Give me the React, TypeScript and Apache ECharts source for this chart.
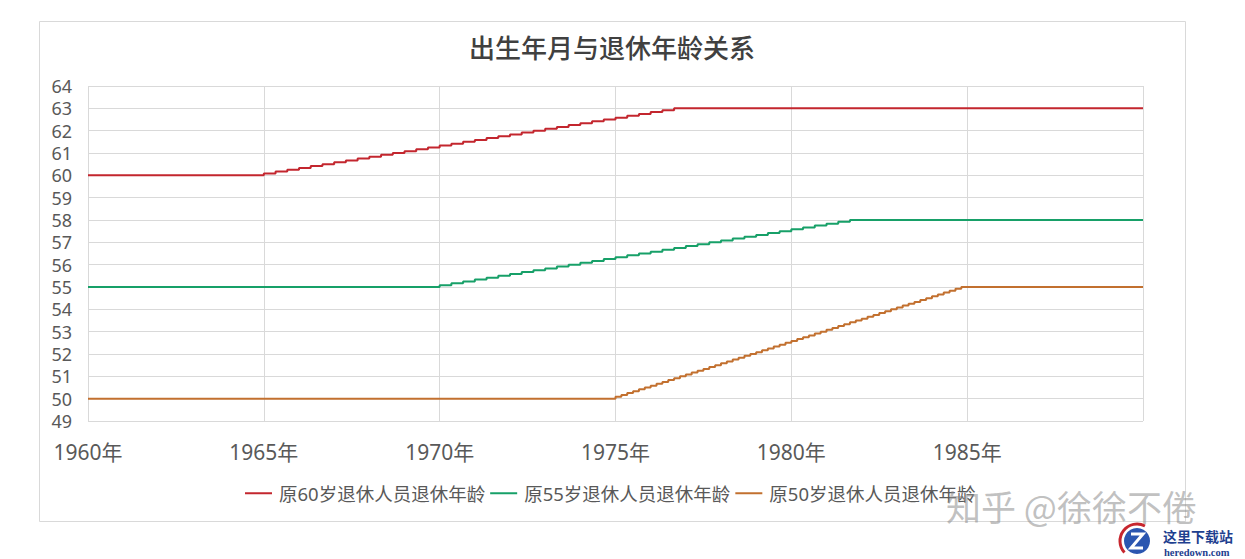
import React, { useEffect, useRef } from "react";
import * as echarts from "echarts";

const TITLE = "出生年月与退休年龄关系";
const SERIES_NAMES = ["原60岁退休人员退休年龄", "原55岁退休人员退休年龄", "原50岁退休人员退休年龄"];
const SERIES_COLORS = ["#C3262E", "#17A068", "#C2702F"];
const Y_MIN = 49;
const Y_MAX = 64;
const X_MIN = 1960;
const X_MAX = 1990;
const X_TICKS = [1960, 1965, 1970, 1975, 1980, 1985];

// [birth year-month, retirement age in months] at each change point
const men60Steps: [string, number][] = [
  ["1960-01", 720],
  ["1965-01", 721], ["1965-05", 722], ["1965-09", 723],
  ["1966-01", 724], ["1966-05", 725], ["1966-09", 726],
  ["1967-01", 727], ["1967-05", 728], ["1967-09", 729],
  ["1968-01", 730], ["1968-05", 731], ["1968-09", 732],
  ["1969-01", 733], ["1969-05", 734], ["1969-09", 735],
  ["1970-01", 736], ["1970-05", 737], ["1970-09", 738],
  ["1971-01", 739], ["1971-05", 740], ["1971-09", 741],
  ["1972-01", 742], ["1972-05", 743], ["1972-09", 744],
  ["1973-01", 745], ["1973-05", 746], ["1973-09", 747],
  ["1974-01", 748], ["1974-05", 749], ["1974-09", 750],
  ["1975-01", 751], ["1975-05", 752], ["1975-09", 753],
  ["1976-01", 754], ["1976-05", 755], ["1976-09", 756],
  ["1990-01", 756],
];

const women55Steps: [string, number][] = [
  ["1960-01", 660],
  ["1970-01", 661], ["1970-05", 662], ["1970-09", 663],
  ["1971-01", 664], ["1971-05", 665], ["1971-09", 666],
  ["1972-01", 667], ["1972-05", 668], ["1972-09", 669],
  ["1973-01", 670], ["1973-05", 671], ["1973-09", 672],
  ["1974-01", 673], ["1974-05", 674], ["1974-09", 675],
  ["1975-01", 676], ["1975-05", 677], ["1975-09", 678],
  ["1976-01", 679], ["1976-05", 680], ["1976-09", 681],
  ["1977-01", 682], ["1977-05", 683], ["1977-09", 684],
  ["1978-01", 685], ["1978-05", 686], ["1978-09", 687],
  ["1979-01", 688], ["1979-05", 689], ["1979-09", 690],
  ["1980-01", 691], ["1980-05", 692], ["1980-09", 693],
  ["1981-01", 694], ["1981-05", 695], ["1981-09", 696],
  ["1990-01", 696],
];

const women50Steps: [string, number][] = [
  ["1960-01", 600],
  ["1975-01", 601], ["1975-03", 602], ["1975-05", 603], ["1975-07", 604], ["1975-09", 605], ["1975-11", 606],
  ["1976-01", 607], ["1976-03", 608], ["1976-05", 609], ["1976-07", 610], ["1976-09", 611], ["1976-11", 612],
  ["1977-01", 613], ["1977-03", 614], ["1977-05", 615], ["1977-07", 616], ["1977-09", 617], ["1977-11", 618],
  ["1978-01", 619], ["1978-03", 620], ["1978-05", 621], ["1978-07", 622], ["1978-09", 623], ["1978-11", 624],
  ["1979-01", 625], ["1979-03", 626], ["1979-05", 627], ["1979-07", 628], ["1979-09", 629], ["1979-11", 630],
  ["1980-01", 631], ["1980-03", 632], ["1980-05", 633], ["1980-07", 634], ["1980-09", 635], ["1980-11", 636],
  ["1981-01", 637], ["1981-03", 638], ["1981-05", 639], ["1981-07", 640], ["1981-09", 641], ["1981-11", 642],
  ["1982-01", 643], ["1982-03", 644], ["1982-05", 645], ["1982-07", 646], ["1982-09", 647], ["1982-11", 648],
  ["1983-01", 649], ["1983-03", 650], ["1983-05", 651], ["1983-07", 652], ["1983-09", 653], ["1983-11", 654],
  ["1984-01", 655], ["1984-03", 656], ["1984-05", 657], ["1984-07", 658], ["1984-09", 659], ["1984-11", 660],
  ["1990-01", 660],
];

const WATERMARK = "知乎 @徐徐不倦";
const LOGO_CN = "这里下载站";
const LOGO_EN = "heredown.com";

const toPoints = (steps: [string, number][]) =>
  steps.map(([ym, m]) => {
    const [y, mo] = ym.split("-").map(Number);
    return [y + (mo - 1) / 12, m / 12];
  });

const SANS = "'Noto Sans', 'Noto Sans CJK SC', sans-serif";

export default function App() {
  const ref = useRef<HTMLDivElement>(null);
  useEffect(() => {
    if (!ref.current) return;
    const chart = echarts.init(ref.current, undefined, { renderer: "svg" });
    const allSteps = [men60Steps, women55Steps, women50Steps];
    chart.setOption({
      animation: false,
      backgroundColor: "#ffffff",
      title: {
        text: TITLE,
        left: 612,
        top: 33,
        padding: 0,
        textAlign: "center",
        textStyle: {
          fontFamily: "'Noto Sans CJK SC', sans-serif",
          fontSize: 26,
          fontWeight: 500,
          color: "#404040",
        },
      },
      legend: {
        left: 245,
        top: 484,
        padding: 0,
        itemWidth: 27,
        itemHeight: 2,
        itemGap: 5,
        icon: "rect",
        data: SERIES_NAMES,
        textStyle: { fontFamily: SANS, fontSize: 18.5, color: "#595959", padding: [0, 0, 0, 2] },
      },
      grid: { left: 88, top: 86, right: 102, bottom: 138, containLabel: false },
      xAxis: {
        type: "value",
        min: X_MIN,
        max: X_MAX,
        interval: 5,
        axisLine: { show: false },
        axisTick: { show: false },
        splitLine: { show: true, lineStyle: { color: "#D9D9D9", width: 1 } },
        axisLabel: {
          margin: 20,
          fontFamily: SANS,
          fontSize: 21,
          color: "#595959",
          formatter: (v: number) => (X_TICKS.includes(v) ? `${v}年` : ""),
        },
      },
      yAxis: {
        type: "value",
        min: Y_MIN,
        max: Y_MAX,
        interval: 1,
        axisLine: { show: false },
        axisTick: { show: false },
        splitLine: { show: true, lineStyle: { color: "#D9D9D9", width: 1 } },
        axisLabel: { margin: 16, fontFamily: SANS, fontSize: 18, color: "#595959" },
      },
      series: allSteps.map((s, i) => ({
        name: SERIES_NAMES[i],
        type: "line",
        step: "end",
        showSymbol: false,
        symbol: "none",
        data: toPoints(s),
        itemStyle: { color: SERIES_COLORS[i] },
        lineStyle: { color: SERIES_COLORS[i], width: 2 },
      })),
      graphic: [
        {
          type: "rect",
          silent: true,
          z: -10,
          shape: { x: 39.5, y: 21.5, width: 1146, height: 500 },
          style: { fill: "none", stroke: "#D9D9D9", lineWidth: 1 },
        },
        {
          type: "text",
          x: 946,
          y: 505,
          z: 100,
          style: {
            text: WATERMARK,
            font: "35px 'Noto Sans CJK SC', sans-serif",
            fill: "rgba(140,140,140,0.55)",
            textVerticalAlign: "middle",
          },
        },
        {
          type: "circle",
          z: 100,
          shape: { cx: 1137, cy: 541, r: 13 },
          style: { fill: "#2B56B0" },
        },
        {
          type: "arc",
          z: 101,
          shape: { cx: 1137, cy: 541, r: 17, startAngle: 2.4, endAngle: 5.2 },
          style: { stroke: "#C7262E", lineWidth: 3, fill: "none" },
        },
        {
          type: "polyline",
          z: 102,
          shape: { points: [[1131, 534], [1143, 534], [1131, 548], [1143, 548]] },
          style: { stroke: "#ffffff", lineWidth: 3, fill: "none" },
        },
        {
          type: "text",
          x: 1163,
          y: 536,
          z: 100,
          style: {
            text: LOGO_CN,
            font: "bold 14px 'Noto Sans CJK SC', sans-serif",
            fill: "#1E3F8F",
            textVerticalAlign: "middle",
          },
        },
        {
          type: "text",
          x: 1164,
          y: 552,
          z: 100,
          style: {
            text: LOGO_EN,
            font: "bold 10.5px 'Liberation Serif', serif",
            fill: "#1E3F8F",
            textVerticalAlign: "middle",
          },
        },
      ],
    });
    return () => chart.dispose();
  }, []);
  return (
    <div
      ref={ref}
      style={{ position: "fixed", left: 0, top: 0, width: 1245, height: 559 }}
    />
  );
}
